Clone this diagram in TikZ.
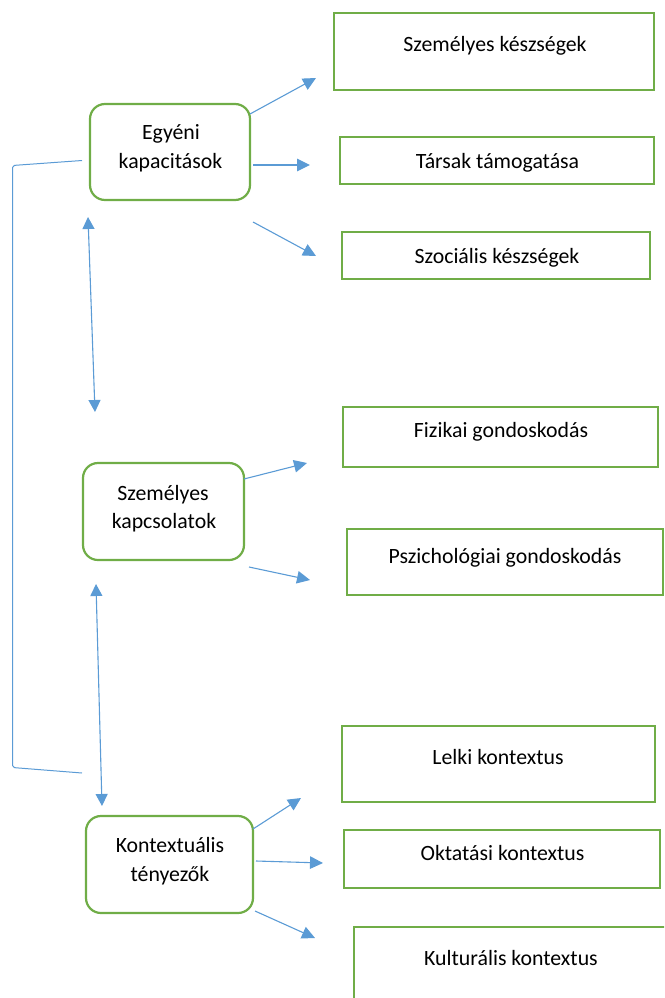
\documentclass[tikz,border=0pt]{standalone}
\usepackage{fontspec}
\setmainfont{Carlito}
\usetikzlibrary{arrows.meta}
\definecolor{boxgreen}{HTML}{70AD47}
\definecolor{linkblue}{HTML}{5B9BD5}
\begin{document}
\begin{tikzpicture}[x=1pt,y=-1pt,
  panel/.style={draw=boxgreen, line width=2.2pt, inner sep=0pt, outer sep=0pt},
  hub/.style={panel, rounded corners=15pt},
  caption/.style={anchor=base, inner sep=0pt, font=\fontsize{21.8}{26}\selectfont},
  link/.style={draw=linkblue, line width=1.1pt, -{Triangle[length=13pt,width=12.5pt]}},
  twoway/.style={draw=linkblue, line width=1.1pt, {Triangle[length=12pt,width=12pt]}-{Triangle[length=12pt,width=12pt]}},
  brace/.style={draw=linkblue, line width=1pt, rounded corners=2pt}]
\useasboundingbox (0,0) rectangle (664,998);
\clip (0,0) rectangle (664,998);

% main factors
\node[hub, minimum width=160pt, minimum height=96pt] (egy) at (170,152) {};
\node[caption] (egyA) at (171,139) {Egyéni};
\node[caption] (egyB) at (170.5,168) {kapacitások};

\node[hub, minimum width=161pt, minimum height=97pt] (kap) at (163.5,511.5) {};
\node[caption] (kapA) at (163,500) {Személyes};
\node[caption] (kapB) at (164,528) {kapcsolatok};

\node[hub, minimum width=167pt, minimum height=97pt] (kon) at (169.5,864.5) {};
\node[caption] (konA) at (170,852) {Kontextuális};
\node[caption] (konB) at (170,881) {tényezők};

% sub factors
\node[panel, minimum width=320pt, minimum height=77pt] (s1) at (494,51.5) {};
\node[caption] (s1t) at (495,52) {Személyes készségek};
\node[panel, minimum width=314pt, minimum height=47pt] (s2) at (497,160.5) {};
\node[caption] (s2t) at (497.5,168) {Társak támogatása};
\node[panel, minimum width=308pt, minimum height=47pt] (s3) at (496,255.5) {};
\node[caption] (s3t) at (497,263) {Szociális készségek};

\node[panel, minimum width=315pt, minimum height=60pt] (p1) at (500.5,437) {};
\node[caption] (p1t) at (501,437) {Fizikai gondoskodás};
\node[panel, minimum width=316pt, minimum height=66pt] (p2) at (505,562) {};
\node[caption] (p2t) at (505,563) {Pszichológiai gondoskodás};

\node[panel, minimum width=313pt, minimum height=76pt] (c1) at (498.5,764) {};
\node[caption] (c1t) at (498,764) {Lelki kontextus};
\node[panel, minimum width=316pt, minimum height=58pt] (c2) at (502,859) {};
\node[caption] (c2t) at (502.5,860) {Oktatási kontextus};
\node[panel, minimum width=346pt, minimum height=103pt] (c3) at (527,978.5) {};
\node[caption] (c3t) at (511,965) {Kulturális kontextus};

% connector ends
\coordinate (a1s) at (250,114);  \coordinate (a1e) at (316,78);
\coordinate (a2s) at (253,165);  \coordinate (a2e) at (310,165);
\coordinate (a3s) at (253,222);  \coordinate (a3e) at (316,256);
\coordinate (b1s) at (244,479);  \coordinate (b1e) at (307,463);
\coordinate (b2s) at (249,567);  \coordinate (b2e) at (310,580);
\coordinate (c1s) at (253,829);  \coordinate (c1e) at (301,798);
\coordinate (c2s) at (256,861);  \coordinate (c2e) at (323,863);
\coordinate (c3s) at (255,911);  \coordinate (c3e) at (315,938);
\coordinate (d1s) at (88,217);   \coordinate (d1e) at (95,412);
\coordinate (d2s) at (96,584);   \coordinate (d2e) at (102,806);
\coordinate (bt) at (82,160.5);  \coordinate (btc) at (12.5,165.5);
\coordinate (bbc) at (12.5,767.5); \coordinate (bb) at (82,773);

\draw[link] (a1s) -- (a1e);
\draw[link] (a2s) -- (a2e);
\draw[link] (a3s) -- (a3e);
\draw[link] (b1s) -- (b1e);
\draw[link] (b2s) -- (b2e);
\draw[link] (c1s) -- (c1e);
\draw[link] (c2s) -- (c2e);
\draw[link] (c3s) -- (c3e);
\draw[twoway] (d1s) -- (d1e);
\draw[twoway] (d2s) -- (d2e);

% bracket joining the first and last factor
\draw[brace] (bt) -- (btc) -- (bbc) -- (bb);
\end{tikzpicture}
\end{document}
